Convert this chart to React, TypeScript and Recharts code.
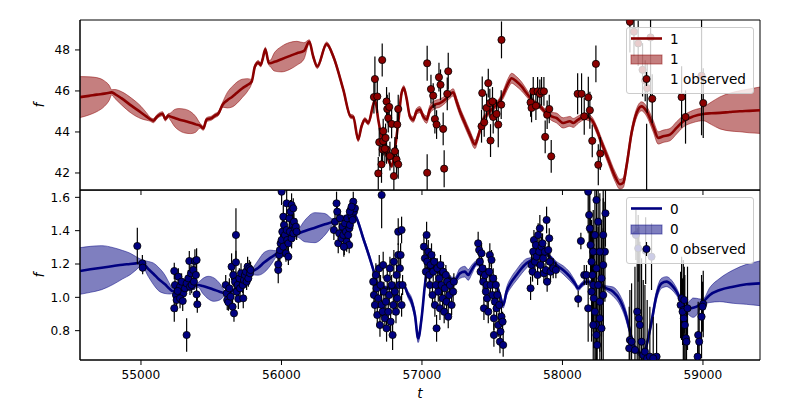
import React from 'react';
import {
  ComposedChart,
  Area,
  Line,
  Scatter,
  ErrorBar,
  XAxis,
  YAxis,
  ReferenceArea,
  Legend,
} from 'recharts';

// ---------- axes ----------
const tDomain: [number, number] = [54566, 59406];
const tTicks = [55000, 56000, 57000, 58000, 59000];
const topDomain: [number, number] = [41.17, 49.46];
const topTicks = [42, 44, 46, 48];
const bottomDomain: [number, number] = [0.624, 1.644];
const bottomTicks = [0.8, 1.0, 1.2, 1.4, 1.6];

// ---------- series "1" (top): prediction [t, mean, sigma] ----------
const topPrediction: [number, number, number][] = [
  [54566, 45.7, 1.0], [54630, 45.76, 0.93], [54685, 45.82, 0.83], [54740, 45.87, 0.62],
  [54775, 45.91, 0.35], [54791, 45.93, 0.13], [54815, 45.85, 0.22], [54860, 45.65, 0.32],
  [54934, 45.27, 0.37], [55000, 44.95, 0.3], [55040, 44.75, 0.18], [55064, 44.63, 0.1],
  [55088, 44.55, 0.1], [55116, 44.76, 0.1], [55154, 44.89, 0.1], [55173, 44.63, 0.1],
  [55195, 44.8, 0.1], [55206, 44.76, 0.15], [55240, 44.68, 0.42], [55270, 44.61, 0.53],
  [55313, 44.53, 0.58], [55355, 44.45, 0.53], [55390, 44.37, 0.38], [55420, 44.31, 0.12],
  [55444, 44.18, 0.1], [55467, 44.6, 0.1], [55503, 44.68, 0.1], [55527, 44.8, 0.1],
  [55550, 44.89, 0.1], [55581, 45.33, 0.12], [55615, 45.55, 0.38], [55650, 45.72, 0.5],
  [55681, 45.9, 0.52], [55720, 46.12, 0.45], [55760, 46.3, 0.3], [55788, 46.46, 0.1],
  [55811, 47.19, 0.1], [55835, 47.39, 0.1], [55852, 47.27, 0.1], [55866, 47.55, 0.1],
  [55885, 48.03, 0.1], [55909, 47.38, 0.12], [55918, 47.35, 0.14], [55950, 47.42, 0.45],
  [56000, 47.55, 0.62], [56056, 47.7, 0.66], [56110, 47.84, 0.58], [56160, 47.95, 0.4],
  [56198, 48.4, 0.1], [56226, 47.68, 0.1], [56255, 47.19, 0.1], [56321, 48.29, 0.1],
  [56369, 47.68, 0.1], [56440, 46.06, 0.1], [56492, 44.76, 0.1], [56511, 44.73, 0.1],
  [56546, 43.63, 0.1], [56570, 44.28, 0.1], [56594, 44.6, 0.1], [56618, 44.44, 0.1],
  [56653, 45.33, 0.1], [56665, 45.57, 0.08], [56689, 44.6, 0.08], [56724, 43.31, 0.08],
  [56760, 42.66, 0.08], [56784, 42.34, 0.1], [56807, 43.15, 0.1], [56831, 44.44, 0.1],
  [56855, 45.9, 0.12], [56871, 46.14, 0.12], [56890, 45.65, 0.12], [56914, 44.76, 0.13],
  [56938, 44.6, 0.13], [56962, 45.01, 0.15], [56985, 45.09, 0.15], [57009, 44.76, 0.15],
  [57033, 44.6, 0.18], [57056, 45.09, 0.2], [57092, 45.33, 0.2], [57128, 45.41, 0.2],
  [57163, 45.57, 0.18], [57199, 45.82, 0.18], [57222, 45.93, 0.18], [57246, 45.49, 0.2],
  [57270, 45.01, 0.2], [57305, 44.44, 0.2], [57341, 43.87, 0.2], [57377, 43.39, 0.2],
  [57400, 43.79, 0.18], [57436, 44.6, 0.15], [57472, 44.92, 0.15], [57507, 45.17, 0.15],
  [57543, 45.41, 0.15], [57578, 45.82, 0.2], [57614, 46.38, 0.24], [57638, 46.62, 0.24],
  [57673, 46.46, 0.24], [57709, 46.22, 0.22], [57744, 45.9, 0.18], [57792, 45.49, 0.12],
  [57839, 45.25, 0.12], [57887, 44.92, 0.15], [57922, 44.76, 0.2], [57958, 44.68, 0.24],
  [58005, 44.44, 0.25], [58053, 44.52, 0.24], [58077, 44.44, 0.22], [58112, 44.6, 0.18],
  [58160, 44.76, 0.16], [58207, 44.6, 0.16], [58243, 44.12, 0.18], [58279, 43.47, 0.2],
  [58326, 42.66, 0.22], [58373, 41.85, 0.24], [58409, 41.45, 0.24], [58433, 41.53, 0.24],
  [58456, 42.34, 0.24], [58492, 43.96, 0.22], [58528, 44.93, 0.22], [58563, 45.25, 0.22],
  [58599, 45.01, 0.24], [58646, 44.28, 0.28], [58682, 43.71, 0.3], [58717, 43.79, 0.3],
  [58765, 43.87, 0.3], [58812, 44.2, 0.3], [58860, 44.52, 0.28], [58931, 44.76, 0.3],
  [59002, 44.88, 0.33], [59060, 44.91, 0.55], [59121, 44.93, 0.78], [59190, 44.97, 0.92],
  [59263, 45.01, 1.0], [59330, 45.03, 1.07], [59406, 45.06, 1.13],
];

// ---------- series "1" observed [t, f, err] ----------
const topObserved: [number, number, number][] = [
  [56665, 46.58, 1.1], [56658, 45.7, 0.8], [56682, 45.73, 0.8], [56717, 47.51, 0.8],
  [56689, 41.98, 0.8], [56712, 42.42, 0.9], [56696, 43.5, 0.7], [56724, 43.55, 0.7],
  [56748, 45.49, 0.7], [56753, 45.12, 0.7], [56767, 45.22, 0.7], [56760, 44.68, 0.7],
  [56784, 44.39, 0.7], [56741, 43.71, 0.7], [56724, 44.04, 0.6], [56720, 43.15, 0.7],
  [56748, 43.15, 0.7], [56772, 42.82, 0.7], [56807, 43.06, 0.7], [56819, 42.66, 0.7],
  [56831, 42.42, 0.7], [56831, 45.12, 0.7], [56824, 44.36, 0.7], [56800, 41.85, 0.8],
  [56736, 43.18, 0.7],
  [57037, 47.35, 0.85], [57064, 46.09, 0.7], [57080, 45.77, 0.6], [57092, 44.63, 0.7],
  [57104, 44.36, 0.7], [57121, 46.67, 0.7], [57132, 46.3, 0.75], [57151, 44.15, 0.8],
  [57158, 42.21, 0.9], [57180, 45.86, 0.8], [57187, 46.96, 0.9], [57037, 42.01, 0.9],
  [57424, 44.28, 0.8], [57429, 45.9, 0.8], [57443, 44.47, 0.7], [57460, 45.17, 0.7],
  [57472, 46.38, 0.7], [57483, 45.41, 0.7], [57488, 43.58, 0.8], [57502, 45.49, 0.7],
  [57507, 44.73, 0.8], [57531, 44.88, 0.7], [57543, 44.36, 1.1], [57564, 45.33, 0.7],
  [57566, 48.49, 0.9],
  [57773, 45.44, 0.7], [57780, 45.17, 0.7], [57792, 45.98, 0.7], [57811, 45.28, 0.7],
  [57823, 45.98, 0.7], [57839, 45.86, 0.7], [57851, 45.98, 0.7], [57868, 45.98, 0.7],
  [57891, 44.84, 0.7], [57906, 45.12, 0.7], [57877, 43.76, 0.8], [57920, 42.81, 0.8],
  [58108, 45.86, 1.0], [58136, 45.86, 1.0], [58155, 44.76, 0.9], [58184, 45.69, 1.0],
  [58195, 45.06, 0.9], [58212, 43.57, 0.8], [58238, 47.32, 0.9], [58255, 42.4, 1.0],
  [58269, 42.95, 0.8],
  [58480, 49.37, 1.5], [58509, 48.89, 1.2], [58539, 48.32, 1.1], [58570, 47.03, 1.3],
  [58589, 46.5, 1.0], [58603, 46.14, 1.2], [58627, 48.61, 3.0], [58639, 45.62, 1.2],
  [58599, 40.0, 4.4], [58848, 45.7, 1.5], [58876, 44.73, 1.3], [58990, 46.74, 2.9],
  [59002, 45.41, 1.7],
];

// ---------- series "0" (bottom): prediction [t, mean, sigma] ----------
const bottomPrediction: [number, number, number][] = [
  [54566, 1.158, 0.14], [54640, 1.168, 0.138], [54720, 1.178, 0.132], [54803, 1.188, 0.11],
  [54870, 1.196, 0.085], [54922, 1.2, 0.065], [54965, 1.204, 0.04], [55005, 1.208, 0.018],
  [55052, 1.17, 0.045], [55090, 1.14, 0.065], [55125, 1.11, 0.07], [55171, 1.078, 0.055],
  [55205, 1.05, 0.03], [55225, 1.038, 0.015], [55278, 1.044, 0.015], [55325, 1.054, 0.015],
  [55372, 1.064, 0.015], [55408, 1.074, 0.015], [55440, 1.068, 0.045], [55480, 1.058, 0.068],
  [55520, 1.046, 0.07], [55560, 1.034, 0.05], [55598, 1.024, 0.015], [55645, 1.034, 0.015],
  [55693, 1.064, 0.015], [55740, 1.104, 0.015], [55788, 1.15, 0.015], [55835, 1.178, 0.045],
  [55878, 1.21, 0.06], [55923, 1.238, 0.045], [55966, 1.264, 0.015], [56013, 1.324, 0.015],
  [56060, 1.354, 0.015], [56108, 1.378, 0.015], [56167, 1.398, 0.065], [56238, 1.418, 0.09],
  [56309, 1.438, 0.065], [56369, 1.454, 0.015], [56416, 1.474, 0.012], [56464, 1.484, 0.012],
  [56511, 1.506, 0.012], [56535, 1.474, 0.012], [56582, 1.354, 0.015], [56629, 1.234, 0.015],
  [56665, 1.134, 0.012], [56689, 1.074, 0.01], [56730, 1.06, 0.01], [56772, 1.054, 0.01],
  [56820, 1.064, 0.01], [56867, 1.074, 0.012], [56902, 1.014, 0.02], [56926, 0.974, 0.025],
  [56950, 0.894, 0.025], [56973, 0.754, 0.025], [56997, 0.874, 0.022], [57021, 1.074, 0.015],
  [57037, 1.174, 0.012], [57080, 1.174, 0.01], [57128, 1.144, 0.01], [57175, 1.124, 0.01],
  [57234, 1.104, 0.015], [57270, 1.144, 0.03], [57305, 1.154, 0.032], [57329, 1.134, 0.032],
  [57353, 1.164, 0.028], [57389, 1.204, 0.015], [57436, 1.184, 0.01], [57483, 1.134, 0.01],
  [57531, 1.074, 0.012], [57555, 1.014, 0.015], [57578, 0.954, 0.018], [57602, 1.034, 0.025],
  [57638, 1.094, 0.03], [57673, 1.134, 0.032], [57709, 1.174, 0.032], [57744, 1.204, 0.028],
  [57780, 1.224, 0.015], [57815, 1.244, 0.01], [57863, 1.264, 0.01], [57910, 1.244, 0.012],
  [57958, 1.194, 0.02], [58005, 1.164, 0.025], [58053, 1.124, 0.025], [58088, 1.084, 0.018],
  [58112, 1.054, 0.015], [58136, 1.074, 0.015], [58171, 1.094, 0.015], [58219, 1.084, 0.01],
  [58266, 1.074, 0.01], [58314, 1.054, 0.015], [58361, 1.034, 0.028], [58409, 0.984, 0.03],
  [58444, 0.914, 0.03], [58480, 0.8, 0.025], [58504, 0.714, 0.02], [58539, 0.674, 0.02],
  [58575, 0.644, 0.02], [58599, 0.714, 0.022], [58634, 0.854, 0.025], [58670, 1.014, 0.028],
  [58705, 1.084, 0.03], [58741, 1.094, 0.03], [58777, 1.074, 0.028], [58812, 1.034, 0.022],
  [58848, 0.974, 0.015], [58871, 0.944, 0.015], [58907, 0.934, 0.045], [58930, 0.938, 0.058],
  [58955, 0.944, 0.05], [58980, 0.96, 0.03], [59002, 0.974, 0.018], [59049, 1.014, 0.045],
  [59120, 1.044, 0.07], [59215, 1.064, 0.1], [59310, 1.078, 0.12], [59406, 1.084, 0.134],
];

// ---------- series "0" observed [t, f, err] ----------
const bottomObserved: [number, number, number][] = [
  [54974, 1.308, 0.11], [55010, 1.204, 0.05], [55012, 1.178, 0.04],
  [55237, 1.158, 0.05], [55242, 1.074, 0.06], [55249, 1.014, 0.07], [55237, 0.934, 0.08],
  [55254, 0.984, 0.07], [55266, 1.124, 0.05], [55270, 1.044, 0.06], [55278, 1.064, 0.05],
  [55289, 1.094, 0.05], [55301, 1.024, 0.06], [55313, 1.054, 0.05], [55325, 1.084, 0.05],
  [55337, 1.114, 0.05], [55344, 1.218, 0.06], [55349, 1.064, 0.05], [55356, 1.144, 0.05],
  [55361, 1.074, 0.05], [55372, 1.164, 0.06], [55377, 1.094, 0.05], [55384, 1.218, 0.07],
  [55391, 1.134, 0.05], [55396, 1.224, 0.07], [55396, 1.018, 0.06], [55401, 0.958, 0.05],
  [55325, 0.774, 0.1], [55278, 0.994, 0.06], [55261, 1.038, 0.05], [55297, 0.978, 0.06],
  [55603, 1.074, 0.06], [55610, 1.024, 0.07], [55614, 0.984, 0.06], [55622, 0.97, 0.05],
  [55629, 1.054, 0.06], [55638, 1.004, 0.06], [55645, 1.184, 0.08], [55652, 0.944, 0.06],
  [55657, 1.134, 0.07], [55662, 0.904, 0.05], [55669, 1.094, 0.06], [55676, 1.374, 0.16],
  [55676, 1.21, 0.07], [55681, 1.034, 0.06], [55688, 1.074, 0.05], [55693, 0.99, 0.06],
  [55700, 1.114, 0.06], [55705, 1.054, 0.05], [55712, 1.144, 0.06], [55724, 1.074, 0.05],
  [55728, 0.994, 0.06], [55733, 1.104, 0.05], [55740, 1.134, 0.06], [55747, 1.154, 0.05],
  [55752, 1.094, 0.05], [55759, 1.184, 0.06], [55764, 1.114, 0.05], [55771, 1.174, 0.05],
  [55776, 1.144, 0.05], [55780, 1.164, 0.05],
  [55977, 1.164, 0.08], [55977, 1.198, 0.06], [55984, 1.254, 0.06], [55989, 1.284, 0.07],
  [55994, 1.324, 0.06], [56001, 1.344, 0.06], [56006, 1.394, 0.07], [56013, 1.304, 0.06],
  [56013, 1.484, 0.07], [56018, 1.434, 0.06], [56025, 1.374, 0.06], [56032, 1.264, 0.05],
  [56037, 1.564, 0.08], [56037, 1.404, 0.06], [56041, 1.344, 0.06], [56049, 1.324, 0.05],
  [56049, 1.244, 0.05], [56056, 1.474, 0.06], [56060, 1.394, 0.06], [56065, 1.514, 0.07],
  [56072, 1.554, 0.07], [56072, 1.354, 0.06], [56079, 1.434, 0.06], [56084, 1.384, 0.05],
  [56084, 1.534, 0.06], [56089, 1.454, 0.05], [56096, 1.414, 0.05], [56103, 1.424, 0.05],
  [56108, 1.394, 0.05], [56001, 1.634, 0.08],
  [56373, 1.404, 0.06], [56381, 1.454, 0.06], [56392, 1.564, 0.07], [56397, 1.514, 0.06],
  [56404, 1.324, 0.06], [56411, 1.384, 0.06], [56416, 1.474, 0.05], [56428, 1.354, 0.06],
  [56435, 1.424, 0.05], [56440, 1.374, 0.06], [56447, 1.304, 0.05], [56452, 1.444, 0.05],
  [56459, 1.394, 0.05], [56464, 1.334, 0.06], [56468, 1.474, 0.05], [56475, 1.374, 0.05],
  [56483, 1.414, 0.05], [56487, 1.434, 0.05], [56492, 1.524, 0.06], [56499, 1.484, 0.05],
  [56506, 1.464, 0.05], [56511, 1.574, 0.06], [56516, 1.514, 0.05], [56523, 1.534, 0.05],
  [56487, 1.514, 0.05], [56499, 1.544, 0.05], [56482, 1.314, 0.05], [56444, 1.304, 0.06],
  [56713, 1.614, 0.2],
  [56653, 1.094, 0.06], [56658, 1.014, 0.07], [56665, 0.954, 0.06], [56672, 1.134, 0.07],
  [56677, 1.054, 0.06], [56682, 0.894, 0.07], [56689, 0.994, 0.06], [56696, 1.174, 0.08],
  [56701, 0.834, 0.07], [56705, 1.074, 0.06], [56713, 0.954, 0.07], [56720, 0.914, 0.06],
  [56724, 1.194, 0.08], [56729, 1.034, 0.06], [56736, 0.874, 0.07], [56743, 0.974, 0.06],
  [56748, 0.814, 0.08], [56753, 1.114, 0.07], [56760, 0.914, 0.06], [56767, 1.014, 0.06],
  [56772, 1.174, 0.07], [56777, 0.854, 0.07], [56784, 1.074, 0.06], [56791, 0.774, 0.09],
  [56796, 0.954, 0.06], [56800, 1.214, 0.07], [56807, 1.034, 0.06], [56815, 0.914, 0.07],
  [56819, 1.134, 0.06], [56824, 0.994, 0.06], [56831, 1.254, 0.07], [56831, 1.394, 0.08],
  [56838, 1.074, 0.06], [56843, 1.174, 0.06], [56848, 1.254, 0.07], [56855, 1.404, 0.08],
  [56862, 1.074, 0.06], [56855, 0.954, 0.07],
  [57014, 1.304, 0.07], [57021, 1.234, 0.06], [57028, 1.154, 0.06], [57033, 1.374, 0.08],
  [57037, 1.214, 0.06], [57045, 1.274, 0.07], [57052, 1.134, 0.06], [57056, 1.074, 0.07],
  [57061, 1.194, 0.06], [57068, 1.254, 0.07], [57075, 1.014, 0.07], [57080, 1.154, 0.06],
  [57087, 1.214, 0.06], [57092, 0.954, 0.07], [57099, 1.074, 0.06], [57104, 0.814, 0.08],
  [57109, 1.174, 0.06], [57116, 1.034, 0.06], [57123, 1.114, 0.06], [57128, 0.934, 0.07],
  [57132, 1.194, 0.06], [57139, 1.074, 0.06], [57147, 0.994, 0.06], [57151, 1.154, 0.06],
  [57158, 0.914, 0.07], [57163, 1.054, 0.06], [57170, 1.134, 0.06], [57175, 0.974, 0.06],
  [57180, 1.094, 0.06], [57187, 0.884, 0.07], [57194, 1.014, 0.06], [57199, 1.074, 0.06],
  [57211, 0.954, 0.06], [57222, 1.034, 0.06], [57227, 1.094, 0.05],
  [57400, 1.324, 0.07], [57407, 1.284, 0.06], [57412, 1.214, 0.06], [57417, 1.154, 0.07],
  [57424, 1.264, 0.06], [57431, 1.174, 0.06], [57436, 1.094, 0.06], [57441, 0.934, 0.07],
  [57448, 1.134, 0.06], [57455, 1.034, 0.06], [57460, 1.074, 0.06], [57464, 0.994, 0.06],
  [57472, 0.914, 0.07], [57479, 1.154, 0.06], [57483, 1.254, 0.07], [57488, 1.074, 0.06],
  [57495, 1.224, 0.06], [57502, 1.014, 0.06], [57507, 1.114, 0.06], [57512, 0.874, 0.07],
  [57519, 0.974, 0.06], [57526, 1.074, 0.06], [57531, 0.934, 0.06], [57536, 1.014, 0.06],
  [57543, 0.834, 0.07], [57550, 0.954, 0.06], [57555, 0.734, 0.07], [57559, 0.794, 0.06],
  [57566, 0.884, 0.06], [57574, 0.854, 0.06], [57578, 0.714, 0.07], [57512, 0.774, 0.07],
  [57773, 1.054, 0.07], [57780, 1.194, 0.06], [57787, 1.154, 0.06], [57792, 1.274, 0.07],
  [57797, 1.344, 0.06], [57804, 1.214, 0.06], [57811, 1.314, 0.07], [57815, 1.244, 0.06],
  [57823, 1.134, 0.06], [57827, 1.374, 0.07], [57834, 1.274, 0.06], [57839, 1.414, 0.08],
  [57844, 1.194, 0.06], [57851, 1.304, 0.06], [57858, 1.324, 0.06], [57863, 1.234, 0.06],
  [57868, 1.144, 0.06], [57875, 1.274, 0.06], [57882, 1.164, 0.06], [57887, 1.464, 0.08],
  [57891, 1.094, 0.06], [57899, 1.284, 0.06], [57906, 1.354, 0.06], [57910, 1.214, 0.06],
  [57915, 1.154, 0.06], [57934, 1.174, 0.06], [57953, 1.164, 0.05],
  [58112, 0.99, 0.05], [58131, 1.338, 0.05], [58155, 1.134, 0.06], [58171, 1.134, 0.06],
  [58183, 1.634, 0.25], [58190, 1.494, 0.2], [58195, 1.414, 0.22], [58200, 1.314, 0.2],
  [58207, 1.214, 0.25], [58214, 1.134, 0.3], [58219, 1.074, 0.28], [58223, 0.994, 0.3],
  [58231, 0.914, 0.3], [58238, 0.834, 0.25], [58242, 0.774, 0.3], [58247, 0.714, 0.25],
  [58183, 0.934, 0.2], [58219, 1.274, 0.25], [58231, 1.374, 0.3], [58242, 1.174, 0.3],
  [58254, 1.074, 0.35], [58266, 0.974, 0.3], [58278, 1.114, 0.35], [58290, 1.194, 0.4],
  [58302, 1.274, 0.3], [58306, 1.504, 0.2], [58242, 1.584, 0.25], [58254, 1.454, 0.3],
  [58266, 0.874, 0.3], [58278, 0.814, 0.35], [58290, 1.014, 0.4], [58219, 0.834, 0.25],
  [58207, 1.034, 0.3], [58266, 1.274, 0.35], [58290, 1.374, 0.3],
  [58480, 0.744, 0.3], [58475, 0.694, 0.25], [58492, 0.734, 0.35], [58516, 0.684, 0.5],
  [58532, 0.914, 0.5], [58544, 0.874, 0.55], [58551, 0.834, 0.5], [58563, 0.734, 0.5],
  [58575, 0.654, 0.45], [58587, 0.674, 0.4], [58603, 0.634, 0.35], [58622, 0.644, 0.3],
  [58670, 0.644, 0.2], [58646, 0.634, 0.25],
  [58523, 1.374, 0.15], [58539, 1.294, 0.2], [58592, 1.28, 0.2], [58634, 1.244, 0.2],
  [58841, 0.954, 0.2], [58848, 0.994, 0.25], [58860, 0.924, 0.3], [58864, 0.874, 0.25],
  [58871, 0.834, 0.3], [58879, 0.754, 0.2], [58883, 0.734, 0.25], [58855, 0.914, 0.2],
  [58890, 0.934, 0.25], [58867, 0.984, 0.2],
  [58966, 0.774, 0.2], [58973, 0.734, 0.2], [58962, 0.644, 0.15], [58990, 0.884, 0.25],
  [59002, 0.96, 0.2], [58997, 0.944, 0.15],
];

const FONT = 'DejaVu Sans, sans-serif';
const TICK_STYLE = { fontFamily: FONT, fontSize: 12.2, fill: '#000' };

type PanelProps = {
  pred: [number, number, number][];
  obs: [number, number, number][];
  color: string;
  name: string;
  yDomain: [number, number];
  yTicks: number[];
  yFmt: (v: number) => string;
  isBottom: boolean;
  top: number;
  height: number;
};

function LegendBox({ name, color }: { name: string; color: string }) {
  const txt = { fontFamily: FONT, fontSize: 13.6, fill: '#000' } as const;
  return (
    <div
      style={{
        width: 128,
        height: 67,
        boxSizing: 'border-box',
        background: 'rgba(255,255,255,0.8)',
        border: '1px solid #cccccc',
        borderRadius: 3,
      }}
    >
      <svg width={126} height={65} style={{ display: 'block' }}>
        <line x1={4} x2={35} y1={10.5} y2={10.5} stroke={color} strokeWidth={2.6} />
        <text x={43} y={15.5} {...txt}>{name}</text>
        <rect x={4} y={27} width={31} height={9} fill={color} fillOpacity={0.5} stroke={color} strokeOpacity={0.5} />
        <text x={43} y={36} {...txt}>{name}</text>
        <line x1={19.5} x2={19.5} y1={44} y2={58} stroke="#000" strokeWidth={1.2} />
        <circle cx={19.5} cy={51} r={3.6} fill={color} stroke="#000" strokeWidth={0.8} />
        <text x={43} y={56} {...txt}>{name} observed</text>
      </svg>
    </div>
  );
}

function Panel(p: PanelProps) {
  const rows = p.pred.map(([t, m, s]) => ({ t, m, band: [m - s, m + s] }));
  const pts = p.obs.map(([t, f, e]) => ({ t, f, e }));
  const marginTop = p.isBottom ? 0 : 20;
  const axisH = p.isBottom ? 40 : 10;
  const dot = (props: any) => (
    <circle cx={props.cx} cy={props.cy} r={3.6} fill={p.color} stroke="#000" strokeWidth={0.8} />
  );
  return (
    <div style={{ position: 'absolute', left: 0, top: p.top, width: 800, height: p.height }}>
      {/* base layer: axes, band, mean line, frame */}
      <div style={{ position: 'absolute', left: 0, top: 0 }}>
        <ComposedChart
          width={800}
          height={p.height}
          data={rows}
          margin={{ top: marginTop, right: 40, bottom: 0, left: 20 }}
        >
          <XAxis
            dataKey="t"
            type="number"
            domain={tDomain}
            ticks={tTicks}
            allowDataOverflow
            height={axisH}
            axisLine={{ stroke: '#000' }}
            tickLine={{ stroke: '#000' }}
            tickSize={5}
            tickMargin={5}
            tick={TICK_STYLE}
            tickFormatter={(v: number) => (p.isBottom ? String(v) : '')}
            label={
              p.isBottom
                ? (lp: any) => {
                    const vb = lp.viewBox || {};
                    return (
                      <text
                        x={vb.x + vb.width / 2}
                        y={vb.y + 38}
                        textAnchor="middle"
                        fontFamily={FONT}
                        fontSize={13.6}
                        fontStyle="italic"
                        fill="#000"
                      >
                        t
                      </text>
                    );
                  }
                : undefined
            }
          />
          <YAxis
            type="number"
            domain={p.yDomain}
            ticks={p.yTicks}
            allowDataOverflow
            width={60}
            axisLine={{ stroke: '#000' }}
            tickLine={{ stroke: '#000' }}
            tickSize={5}
            tickMargin={5}
            tick={TICK_STYLE}
            tickFormatter={p.yFmt}
            label={(lp: any) => {
              const vb = lp.viewBox || {};
              const x = vb.x + 24;
              const y = vb.y + vb.height / 2;
              return (
                <text
                  x={x}
                  y={y}
                  transform={`rotate(-90, ${x}, ${y})`}
                  textAnchor="middle"
                  fontFamily={FONT}
                  fontSize={13.6}
                  fontStyle="italic"
                  fill="#000"
                >
                  f
                </text>
              );
            }}
          />
          <Area
            dataKey="band"
            type="monotone"
            fill={p.color}
            fillOpacity={0.5}
            stroke={p.color}
            strokeOpacity={0.5}
            strokeWidth={1}
            isAnimationActive={false}
            activeDot={false}
          />
          <Line
            dataKey="m"
            type="monotone"
            stroke={p.color}
            strokeWidth={2.6}
            dot={false}
            activeDot={false}
            isAnimationActive={false}
          />
          <ReferenceArea
            x1={tDomain[0]}
            x2={tDomain[1]}
            y1={p.yDomain[0]}
            y2={p.yDomain[1]}
            fill="none"
            fillOpacity={0}
            stroke="#000"
            strokeWidth={1}
            ifOverflow="visible"
          />
        </ComposedChart>
      </div>
      {/* observation layer, clipped to the plot area like matplotlib does */}
      <div
        style={{
          position: 'absolute',
          left: 0,
          top: 0,
          clipPath: `inset(${marginTop}px 40px ${axisH}px 80px)`,
        }}
      >
        <ComposedChart
          width={800}
          height={p.height}
          margin={{ top: marginTop, right: 40, bottom: axisH, left: 80 }}
        >
          <XAxis dataKey="t" type="number" domain={tDomain} allowDataOverflow hide />
          <YAxis type="number" domain={p.yDomain} allowDataOverflow hide />
          <Scatter data={pts} dataKey="f" shape={dot} isAnimationActive={false}>
            <ErrorBar dataKey="e" direction="y" width={0} stroke="#000" strokeWidth={1.2} isAnimationActive={false} />
          </Scatter>
          <Legend
            layout="horizontal"
            verticalAlign="middle"
            align="center"
            wrapperStyle={{ left: 626, top: p.isBottom ? 7 : 27, width: 128, height: 67 }}
            content={() => <LegendBox name={p.name} color={p.color} />}
          />
        </ComposedChart>
      </div>
    </div>
  );
}

export default function App() {
  return (
    <div style={{ position: 'absolute', left: 0, top: 0, width: 800, height: 400, background: '#fff' }}>
      <Panel
        pred={topPrediction}
        obs={topObserved}
        color="#8b0000"
        name="1"
        yDomain={topDomain}
        yTicks={topTicks}
        yFmt={(v) => String(v)}
        isBottom={false}
        top={0}
        height={200}
      />
      <Panel
        pred={bottomPrediction}
        obs={bottomObserved}
        color="#000080"
        name="0"
        yDomain={bottomDomain}
        yTicks={bottomTicks}
        yFmt={(v) => v.toFixed(1)}
        isBottom={true}
        top={190}
        height={210}
      />
    </div>
  );
}
